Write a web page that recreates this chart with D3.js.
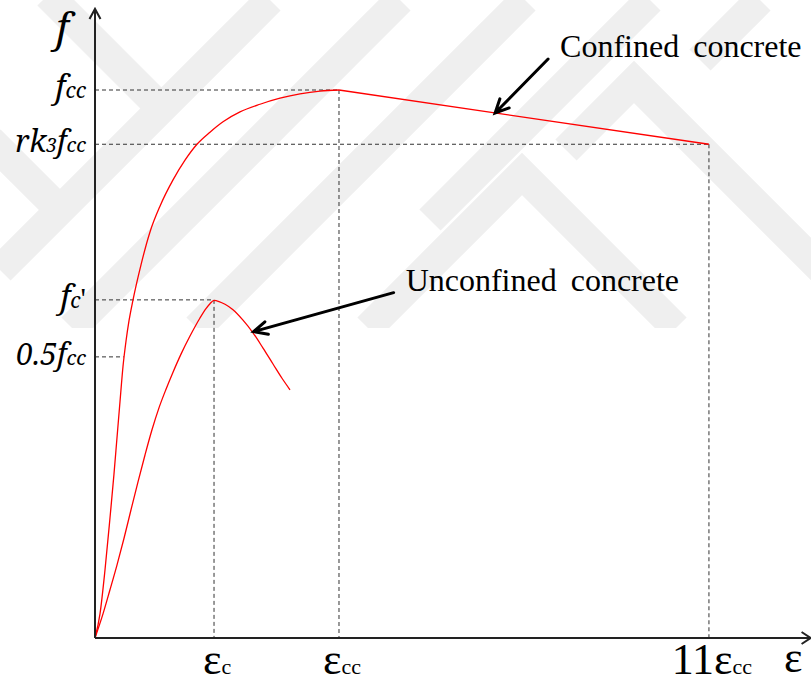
<!DOCTYPE html>
<html>
<head>
<meta charset="utf-8">
<script src="https://cdnjs.cloudflare.com/ajax/libs/d3/7.8.5/d3.min.js"></script>
<style>
  body { margin: 0; background: #fff; }
  svg { display: block; }
  .curve { fill: none; stroke: #ff0000; stroke-width: 1.3; }
  .guide { fill: none; stroke: #333; stroke-width: 1; stroke-dasharray: 4,3; }
  .axis-line { fill: none; stroke: #222; stroke-width: 2; }
  .arrow { fill: none; stroke: #000; stroke-width: 3; stroke-linecap: round; }
  .wm { fill: none; stroke: #efefef; stroke-width: 30; stroke-linejoin: miter; }
  .lbl { font-family: "Liberation Serif", "Times New Roman", serif; fill: #000; }
  .ital { font-family: "Noto Serif", "Liberation Serif", serif; font-style: italic; }
</style>
</head>
<body>
<div id="chart"></div>
<script>
// strain in per mille, stress normalised by fcc
var confinedStrain = [0, 0.085, 0.170, 0.255, 0.323, 0.374, 0.426, 0.477, 0.528, 0.579, 0.647, 0.783, 0.936, 1.106, 1.328, 1.532, 1.736, 1.957, 2.179, 2.468, 2.809, 3.149, 3.489, 3.830, 4.153];
var confinedStress = [0, 0.044, 0.124, 0.219, 0.299, 0.365, 0.432, 0.496, 0.542, 0.579, 0.617, 0.681, 0.741, 0.788, 0.836, 0.872, 0.901, 0.923, 0.942, 0.960, 0.974, 0.985, 0.993, 0.998, 1.0];
var softeningStrain = [4.153, 10.45];
var softeningStress = [1.0, 0.901];
var unconfinedStrain = [0, 0.136, 0.255, 0.374, 0.494, 0.613, 0.732, 0.851, 0.970, 1.089, 1.209, 1.328, 1.464, 1.617, 1.787, 1.889, 1.957, 2.026, 2.111, 2.213, 2.349, 2.519, 2.689, 2.860, 3.030, 3.183, 3.319];
var unconfinedStress = [0, 0.044, 0.088, 0.133, 0.182, 0.234, 0.285, 0.334, 0.380, 0.420, 0.454, 0.485, 0.518, 0.551, 0.584, 0.601, 0.610, 0.616, 0.614, 0.609, 0.599, 0.580, 0.557, 0.529, 0.500, 0.474, 0.453];

// stress levels on the f axis and where their dashed guides end
var yTickValues = [1.0, 0.901, 0.617, 0.513];
var yTickLabels = [
  [["f", 32, 1], ["cc", 21, 1]],
  [["rk", 30, 1], ["3", 19, 1], ["f", 30, 1], ["cc", 20, 1]],
  [["f", 32, 1], ["c", 21, 1], ["'", 30, 0]],
  [["0.5", 30, 1], ["f", 30, 1], ["cc", 20, 1]]
];
var guideStrain = [4.153, 10.45, 2.026, 0.49];
var guideDown = [true, true, true, false];

// strain marks on the eps axis
var xTickValues = [2.026, 4.153, 10.45];
var xTickLabels = [
  [["ε", 44, 0], ["c", 22, 0]],
  [["ε", 44, 0], ["cc", 22, 0]],
  [["11", 44, 0], ["ε", 44, 0], ["cc", 22, 0]]
];

var notes = [
  { text: "Confined concrete", strain: 6.81, stress: 0.958, dx: 53, dy: -54 },
  { text: "Unconfined concrete", strain: 2.70, stress: 0.559, dx: 140, dy: -39 }
];

var width = 811, height = 686;

var x = d3.scaleLinear().domain([0, 12]).range([95, 800]);
var y = d3.scaleLinear().domain([0, 1]).range([638, 90]);

var svg = d3.select("#chart").append("svg")
  .attr("width", width)
  .attr("height", height);

// faint background watermark
svg.append("clipPath").attr("id", "wmclip")
  .append("rect").attr("x", 0).attr("y", 0).attr("width", width).attr("height", 328);

var wmPaths = [
  [[0, 270], [270, 0]],
  [[72, 328], [400, 0]],
  [[197, 328], [525, 0]],
  [[48, -5], [160, 107]],
  [[-10, 140], [62, 212]],
  [[368, 328], [522, 174], [676, 328]],
  [[430, 220], [650, 0]],
  [[566, 150], [634, 82], [830, 278]],
  [[700, 60], [760, 0]]
];
var wm = svg.append("g").attr("clip-path", "url(#wmclip)");
wm.selectAll("path")
  .data(wmPaths)
  .enter()
  .append("path")
  .attr("class", "wm")
  .attr("d", d3.line());

// dashed guides
var guides = svg.append("g");
yTickValues.forEach(function (v, i) {
  guides.append("line")
    .attr("class", "guide")
    .attr("x1", x(0)).attr("y1", y(v))
    .attr("x2", x(guideStrain[i])).attr("y2", y(v));
  if (guideDown[i]) {
    guides.append("line")
      .attr("class", "guide")
      .attr("x1", x(guideStrain[i])).attr("y1", y(v))
      .attr("x2", x(guideStrain[i])).attr("y2", y(0));
  }
});

// curves
function series(xs, ys) {
  return xs.map(function (d, i) { return [d, ys[i]]; });
}
var smooth = d3.line()
  .x(function (d) { return x(d[0]); })
  .y(function (d) { return y(d[1]); })
  .curve(d3.curveMonotoneX);
var straight = d3.line()
  .x(function (d) { return x(d[0]); })
  .y(function (d) { return y(d[1]); });

svg.append("path").attr("class", "curve").attr("d", smooth(series(confinedStrain, confinedStress)));
svg.append("path").attr("class", "curve").attr("d", straight(series(softeningStrain, softeningStress)));
svg.append("path").attr("class", "curve").attr("d", smooth(series(unconfinedStrain, unconfinedStress)));

// axes with open arrow heads
var xEnd = x(12.18), yTop = y(1.148);
svg.append("path").attr("class", "axis-line")
  .attr("d", "M" + x(0) + "," + y(0) + "H" + xEnd + "M" + x(0) + "," + y(0) + "V" + yTop);
svg.append("path").attr("class", "axis-line").attr("stroke-width", 1.6)
  .attr("d", "M" + (xEnd - 9) + "," + (y(0) - 6) + "L" + xEnd + "," + y(0) + "L" + (xEnd - 9) + "," + (y(0) + 6) +
    "M" + (x(0) - 5.5) + "," + (yTop + 10) + "L" + x(0) + "," + yTop + "L" + (x(0) + 5.5) + "," + (yTop + 10));

function rich(g, px, py, parts, anchor) {
  var t = g.append("text")
    .attr("class", "lbl")
    .attr("x", px)
    .attr("y", py)
    .attr("text-anchor", anchor);
  parts.forEach(function (p) {
    t.append("tspan")
      .attr("class", p[2] ? "ital" : null)
      .style("font-size", p[1] + "px")
      .text(p[0]);
  });
  return t;
}

var labels = svg.append("g");
yTickValues.forEach(function (v, i) {
  rich(labels, 86, y(v) + 8, yTickLabels[i], "end");
});
xTickValues.forEach(function (v, i) {
  rich(labels, x(v) + 3, y(0) + 36, xTickLabels[i], "middle");
});
rich(labels, 56, 42, [["f", 40, 1]], "start");
rich(labels, 784, 672, [["ε", 44, 0]], "start");

// callouts
notes.forEach(function (n) {
  var tx = x(n.strain), ty = y(n.stress);
  var sx = tx + n.dx, sy = ty + n.dy;
  var ang = Math.atan2(sy - ty, sx - tx);
  var h = 15, spread = 0.45;
  svg.append("path").attr("class", "arrow")
    .attr("d", "M" + sx + "," + sy + "L" + tx + "," + ty +
      "M" + (tx + h * Math.cos(ang - spread)) + "," + (ty + h * Math.sin(ang - spread)) +
      "L" + tx + "," + ty +
      "L" + (tx + h * Math.cos(ang + spread)) + "," + (ty + h * Math.sin(ang + spread)));
  svg.append("text")
    .attr("class", "lbl")
    .attr("x", sx + 12)
    .attr("y", sy - 2)
    .style("font-size", "32px")
    .style("word-spacing", "6px")
    .text(n.text);
});
</script>
</body>
</html>
